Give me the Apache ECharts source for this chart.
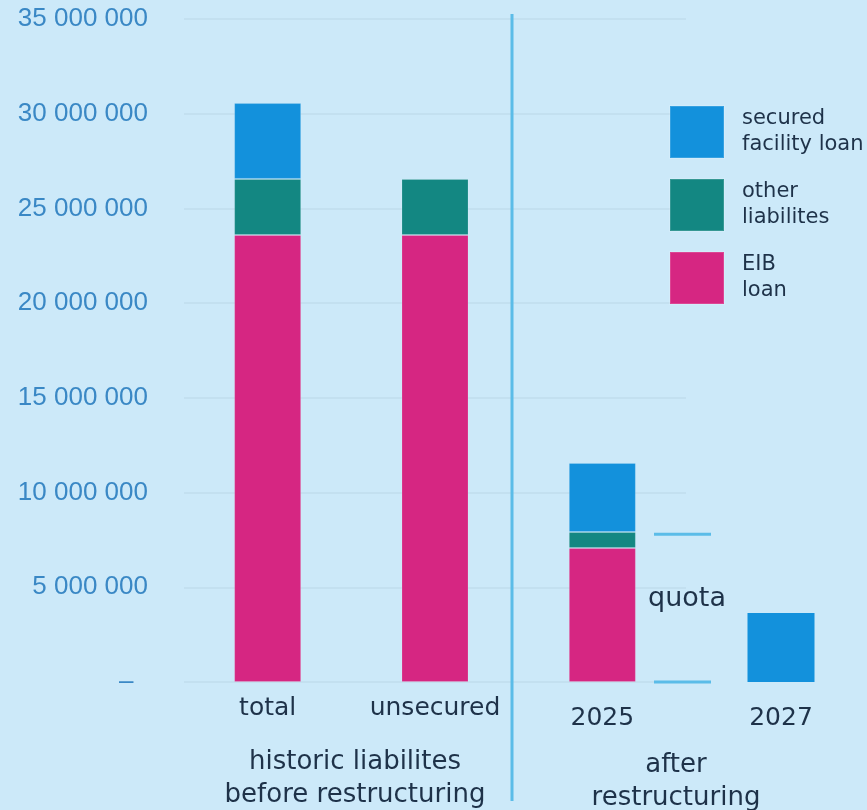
<!DOCTYPE html>
<html>
<head>
<meta charset="utf-8">
<script src="https://cdn.jsdelivr.net/npm/echarts@6/dist/echarts.min.js"></script>
<style>
  html, body { margin: 0; padding: 0; background: #cce9f9; }
  #chart { width: 867px; height: 810px; }
</style>
</head>
<body>
<div id="chart"></div>
<script>
// categories, grouped before / after restructuring
const categories = ['total', 'unsecured', '2025'];
const laterCategories = ['2027'];

// stacked series values
const eibLoan = [23600000, 23600000, 7070000];
const otherLiabilities = [2960000, 2960000, 850000];
const securedLoan = [4000000, null, 3640000];
const securedLater = [3640000];

// quota band (bottom, top)
const quotaLevels = [0, 7800000];

// y axis
const yMax = 35000000;
const yInterval = 5000000;

const seriesNames = ['EIB\nloan', 'other\nliabilites', 'secured\nfacility loan'];
const colors = ['#d62682', '#138782', '#1391dc'];

const textDark = '#1e3249';
const lineBlue = '#5bbce8';
const labelFont = 'DejaVu Sans';

const fmt = (v) => {
    if (v === 0) return '–  ';
    return String(v).replace(/\B(?=(\d{3})+(?!\d))/g, ' ');
};

const chart = echarts.init(document.getElementById('chart'));

const barStyle = (c) => ({
    color: c,
    borderColor: 'rgba(255,255,255,0.15)',
    borderWidth: 1,
});

const option = {
    backgroundColor: '#cce9f9',
    animation: false,
    grid: [
        { left: 184, top: 19, width: 502, height: 663 },
        { left: 714, top: 19, width: 134, height: 663 },
    ],
    legend: {
        orient: 'vertical',
        left: 669,
        top: 105,
        padding: 0,
        itemWidth: 54,
        itemHeight: 52,
        itemGap: 19,
        icon: 'rect',
        selectedMode: false,
        data: ['secured\nfacility loan', 'other\nliabilites', 'EIB\nloan'],
        textStyle: {
            color: textDark,
            fontFamily: labelFont,
            fontSize: 21,
            lineHeight: 26,
            padding: [0, 0, 0, 13],
        },
    },
    xAxis: [
        {
            type: 'category',
            gridIndex: 0,
            data: categories.map((c) => (c === '2025'
                ? { value: c, textStyle: { padding: [10, 0, 0, 0] } }
                : c)),
            axisLine: { show: false },
            axisTick: { show: false },
            axisLabel: {
                interval: 0,
                color: textDark,
                fontFamily: labelFont,
                fontSize: 25,
                margin: 14,
            },
        },
        {
            type: 'category',
            gridIndex: 1,
            data: laterCategories,
            axisLine: { show: false },
            axisTick: { show: false },
            axisLabel: {
                interval: 0,
                color: textDark,
                fontFamily: labelFont,
                fontSize: 25,
                margin: 14,
                padding: [10, 0, 0, 0],
            },
        },
    ],
    yAxis: [
        {
            type: 'value',
            gridIndex: 0,
            min: 0,
            max: yMax,
            interval: yInterval,
            axisLine: { show: false },
            axisTick: { show: false },
            splitLine: { lineStyle: { color: '#c3e0f0', width: 2 } },
            axisLabel: {
                color: '#3a88c5',
                fontFamily: 'Liberation Sans',
                fontSize: 26,
                margin: 36,
                formatter: fmt,
            },
        },
        {
            type: 'value',
            gridIndex: 1,
            min: 0,
            max: yMax,
            interval: yInterval,
            show: false,
            splitLine: { show: false },
        },
    ],
    series: [
        {
            name: seriesNames[0], type: 'bar', stack: 'a', barWidth: 67,
            xAxisIndex: 0, yAxisIndex: 0,
            data: eibLoan, itemStyle: barStyle(colors[0]),
        },
        {
            name: seriesNames[1], type: 'bar', stack: 'a', barWidth: 67,
            xAxisIndex: 0, yAxisIndex: 0,
            data: otherLiabilities, itemStyle: barStyle(colors[1]),
        },
        {
            name: seriesNames[2], type: 'bar', stack: 'a', barWidth: 67,
            xAxisIndex: 0, yAxisIndex: 0,
            data: securedLoan, itemStyle: barStyle(colors[2]),
        },
        {
            name: seriesNames[2], type: 'bar', stack: 'b', barWidth: 67,
            xAxisIndex: 1, yAxisIndex: 1,
            data: securedLater, itemStyle: { color: colors[2] },
        },
    ],
};

chart.setOption(option);

// annotations: divider, quota marks, group captions
const yOf = (v) => chart.convertToPixel({ yAxisIndex: 0 }, v);
const qTop = yOf(quotaLevels[1]);
const qBottom = yOf(quotaLevels[0]);

chart.setOption({
    graphic: [
        {
            type: 'line', silent: true,
            shape: { x1: 512, y1: 14, x2: 512, y2: 801 },
            style: { stroke: lineBlue, lineWidth: 3 },
        },
        {
            type: 'line', silent: true,
            shape: { x1: 654, y1: qTop, x2: 711, y2: qTop },
            style: { stroke: lineBlue, lineWidth: 3 },
        },
        {
            type: 'line', silent: true,
            shape: { x1: 654, y1: qBottom, x2: 711, y2: qBottom },
            style: { stroke: lineBlue, lineWidth: 3 },
        },
        {
            type: 'text', silent: true,
            style: {
                text: 'quota', x: 687, y: 599,
                align: 'center', verticalAlign: 'middle',
                fill: textDark, font: '27px "DejaVu Sans"',
            },
        },
        {
            type: 'text', silent: true,
            style: {
                text: 'historic liabilites\nbefore restructuring', x: 355, y: 746,
                align: 'center', verticalAlign: 'top', lineHeight: 33,
                fill: textDark, font: '26px "DejaVu Sans"',
            },
        },
        {
            type: 'text', silent: true,
            style: {
                text: 'after\nrestructuring', x: 676, y: 749,
                align: 'center', verticalAlign: 'top', lineHeight: 33,
                fill: textDark, font: '26px "DejaVu Sans"',
            },
        },
    ],
});
</script>
</body>
</html>
